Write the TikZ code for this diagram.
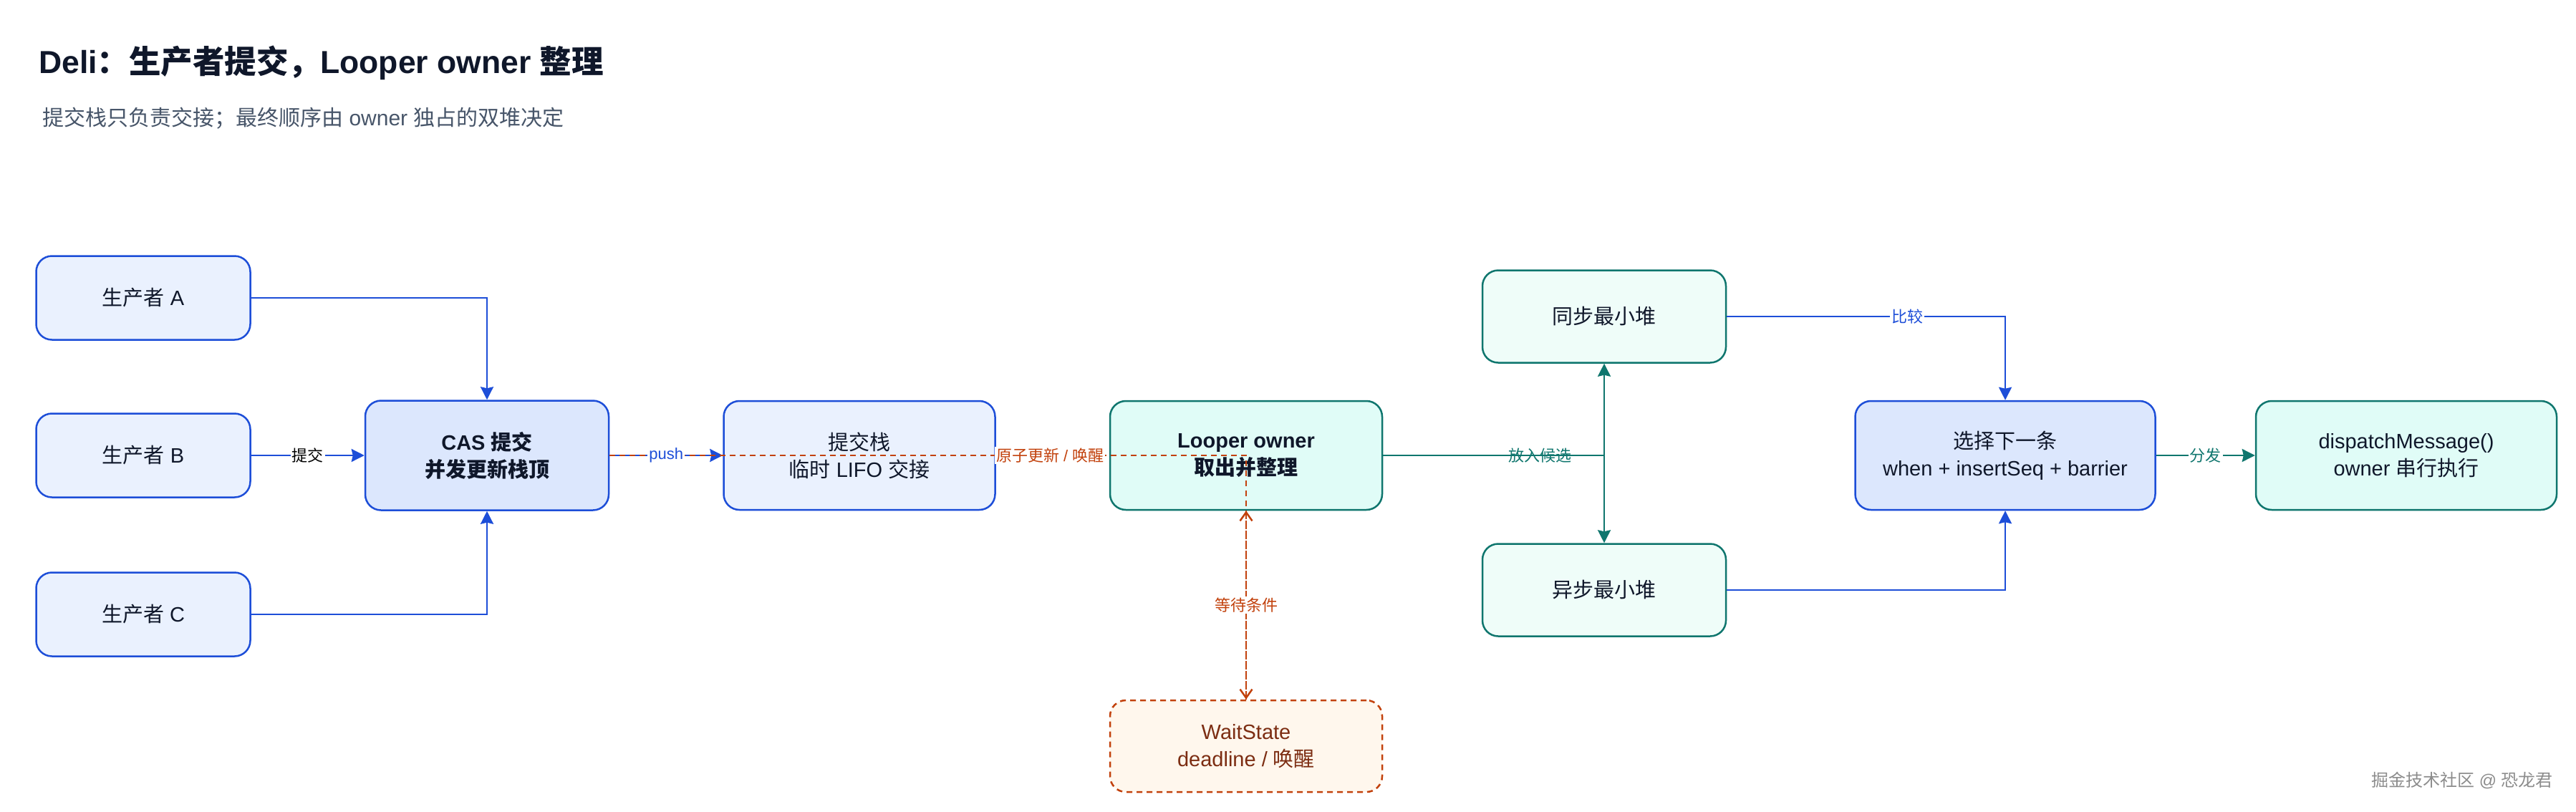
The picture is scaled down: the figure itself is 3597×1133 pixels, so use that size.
\documentclass[tikz,border=0pt]{standalone}
\usepackage{fontspec}
\setmainfont{Liberation Sans}
\newfontfamily\zhf{Noto Sans CJK SC}
\newcommand\zh[1]{{\zhf #1}}
\usetikzlibrary{arrows.meta}
\definecolor{ink}{HTML}{0F172A}
\definecolor{subink}{HTML}{475569}
\definecolor{blueS}{HTML}{1D4ED8}
\definecolor{blueF}{HTML}{EAF1FE}
\definecolor{blueF2}{HTML}{DCE7FD}
\definecolor{greenS}{HTML}{0F766E}
\definecolor{greenF}{HTML}{E0FCF7}
\definecolor{heapF}{HTML}{EFFDF9}
\definecolor{orangeS}{HTML}{C2410C}
\definecolor{orangeF}{HTML}{FFF7ED}
\definecolor{brownT}{HTML}{7C2D12}
\definecolor{wmark}{HTML}{8C8C8C}
\begin{document}
\begin{tikzpicture}[x=1pt,y=-1pt,
  box/.style={rounded corners=22pt, line width=2.5pt, align=center, inner sep=0pt,
    font=\fontsize{29}{38}\selectfont, text=ink},
  bluebox/.style={box, draw=blueS, fill=blueF},
  bluebox2/.style={box, draw=blueS, fill=blueF2},
  greenbox/.style={box, draw=greenS, fill=greenF},
  heapbox/.style={box, draw=greenS, fill=heapF},
  waitbox/.style={box, draw=orangeS, fill=orangeF, dash pattern=on 8pt off 6pt, text=brownT},
  blueflow/.style={line width=2.5pt, draw=blueS, -{Stealth[length=18pt,width=18pt,inset=2pt]}},
  greenflow/.style={line width=2.5pt, draw=greenS, -{Stealth[length=18pt,width=18pt,inset=2pt]}},
  orangeflow/.style={line width=2.5pt, draw=orangeS, dash pattern=on 8pt off 6pt, -{Straight Barb[length=12pt,width=17pt]}},
  lbl/.style={font=\fontsize{22}{26}\selectfont, inner sep=2pt},
  lblw/.style={lbl, fill=white}
]
\useasboundingbox (0,0) rectangle (3597,1133);
\fill[white] (0,0) rectangle (3597,1133);

% titles
\node[anchor=west, inner sep=0pt, text=ink, font=\fontsize{44.5}{50}\selectfont\bfseries] (title) at (54,88)
  {Deli\zh{：生产者提交，}Looper owner \zh{整理}};
\node[anchor=west, inner sep=0pt, text=subink, font=\fontsize{30}{34}\selectfont] (subtitle) at (59,165)
  {\zh{提交栈只负责交接；最终顺序由} owner \zh{独占的双堆决定}};

% boxes
\node[bluebox, minimum width=299pt, minimum height=117pt] (A) at (200,416) {\zh{生产者} A};
\node[bluebox, minimum width=299pt, minimum height=117pt] (B) at (200,636) {\zh{生产者} B};
\node[bluebox, minimum width=299pt, minimum height=117pt] (C) at (200,858) {\zh{生产者} C};
\node[bluebox2, minimum width=340pt, minimum height=153pt, font=\fontsize{29}{38}\selectfont\bfseries] (CAS) at (680,636)
  {CAS \zh{提交}\\\zh{并发更新栈顶}};
\node[bluebox, minimum width=379pt, minimum height=152pt] (stack) at (1200,636)
  {\zh{提交栈}\\\zh{临时} LIFO \zh{交接}};
\node[greenbox, minimum width=380pt, minimum height=152pt, font=\fontsize{29}{38}\selectfont\bfseries] (looper) at (1740,636)
  {Looper owner\\\zh{取出并整理}};
\node[waitbox, minimum width=380pt, minimum height=128pt] (wait) at (1740,1042)
  {WaitState\\deadline / \zh{唤醒}};
\node[heapbox, minimum width=340pt, minimum height=129pt] (sync) at (2240,442) {\zh{同步最小堆}};
\node[heapbox, minimum width=340pt, minimum height=129pt] (async) at (2240,824) {\zh{异步最小堆}};
\node[bluebox2, minimum width=419pt, minimum height=152pt] (select) at (2800,636)
  {\zh{选择下一条}\\when + insertSeq + barrier};
\node[greenbox, minimum width=420pt, minimum height=152pt] (dispatch) at (3360,636)
  {dispatchMessage()\\owner \zh{串行执行}};

% producers -> CAS
\draw[blueflow] (A.east) -| (CAS.north);
\draw[blueflow] (B.east) -- node[lblw, text=black] (lsubmit) {\zh{提交}} (CAS.west);
\draw[blueflow] (C.east) -| (CAS.south);

% CAS -> stack (push)
\draw[blueflow] (CAS.east) -- (stack.west);
% CAS -> WaitState (atomic update / wake)
\draw[orangeflow] (CAS.east) -| node[lblw, text=orangeS, pos=0.346] (latomic) {\zh{原子更新} / \zh{唤醒}} (wait.north);
\path (CAS.east) -- node[lblw, text=blueS] (lpush) {push} (stack.west);
% WaitState -> Looper
\draw[orangeflow] (wait.north) -- node[lblw, text=orangeS] (lwait) {\zh{等待条件}} (looper.south);

% Looper -> heaps
\draw[greenflow] (looper.east) -| node[lbl, text=greenS, pos=0.355] (lcand) {\zh{放入候选}} (sync.south);
\draw[greenflow] (looper.east) -| (async.north);

% heaps -> select
\draw[blueflow] (sync.east) -| node[lblw, text=blueS, pos=0.324] (lcmp) {\zh{比较}} (select.north);
\draw[blueflow] (async.east) -| (select.south);

% select -> dispatch
\draw[greenflow] (select.east) -- node[lblw, text=greenS] (ldisp) {\zh{分发}} (dispatch.west);

% watermark
\node[anchor=east, inner sep=0pt, text=wmark, font=\fontsize{24}{28}\selectfont] (wm) at (3565,1090)
  {\zh{掘金技术社区} @ \zh{恐龙君}};
\end{tikzpicture}
\end{document}
